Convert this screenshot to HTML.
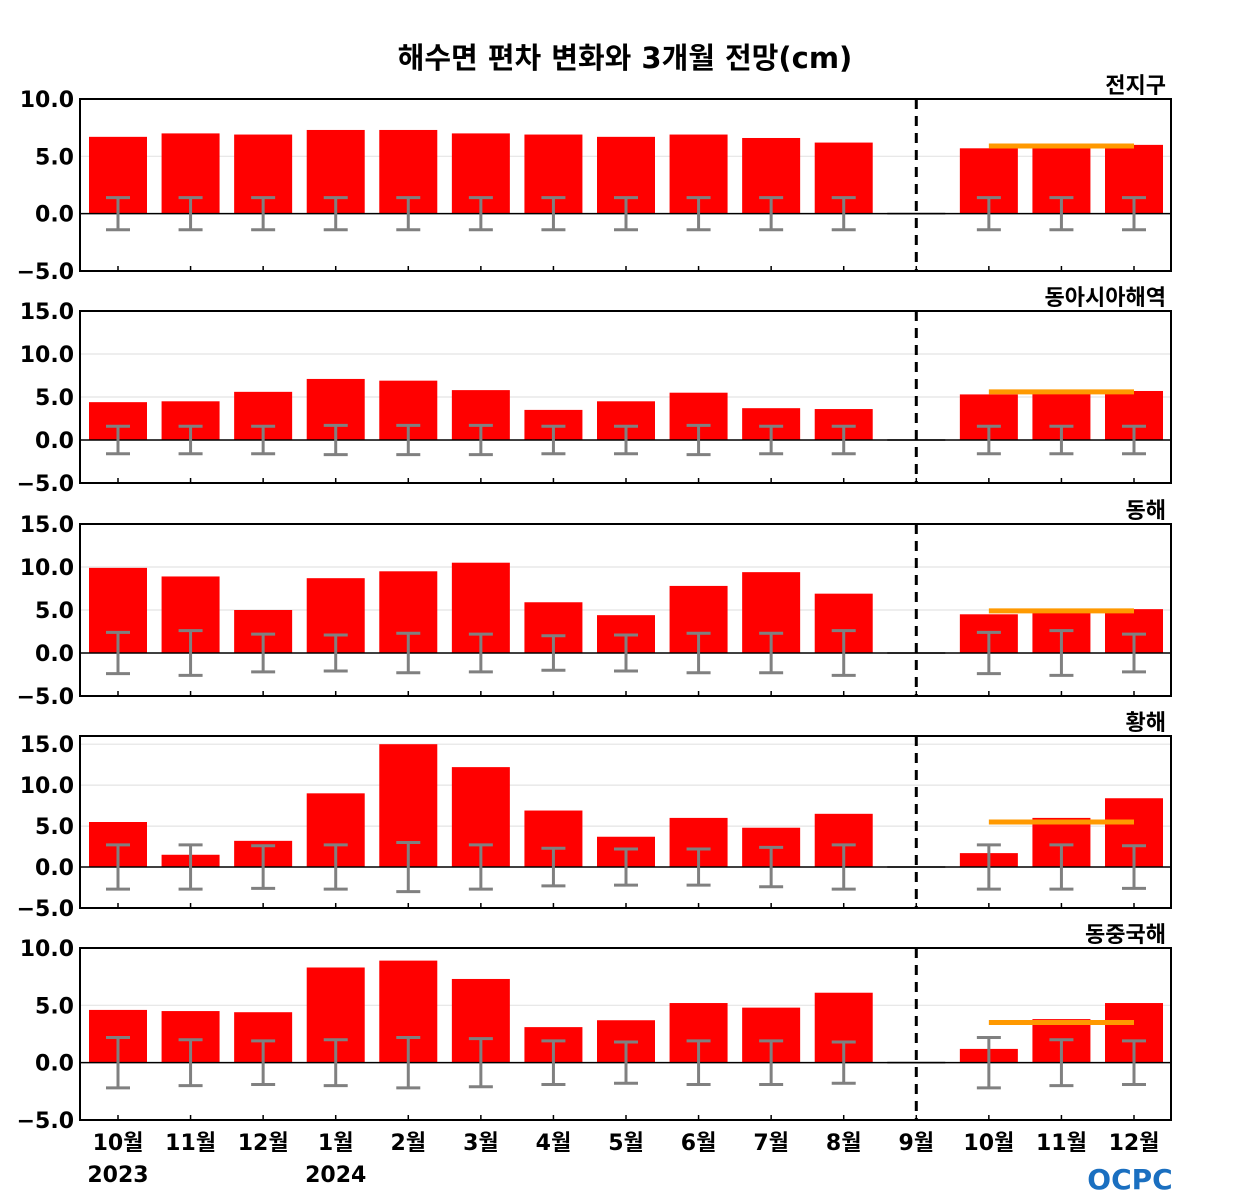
<!DOCTYPE html>
<html><head><meta charset="utf-8">
<style>
body{margin:0;background:#fff;}
svg{display:block;font-family:"DejaVu Sans","Noto Sans CJK KR",sans-serif;}
</style></head>
<body>
<svg id="chart" width="1250" height="1200" viewBox="0 0 1250 1200">
<text x="625" y="68" text-anchor="middle" font-size="29" font-weight="bold">해수면 편차 변화와 3개월 전망(cm)</text>
<g>
<text x="1130" y="1189" text-anchor="middle" font-size="28" font-weight="bold" fill="#1a6fc0">OCPC</text>
</g>
</svg>
<script>
const months = ["10월","11월","12월","1월","2월","3월","4월","5월","6월","7월","8월","9월","10월","11월","12월"];
const years = [["2023",0],["2024",3]];
const regions = ["전지구","동아시아해역","동해","황해","동중국해"];
const yMin = [-5,-5,-5,-5,-5];
const yMax = [10,15,15,16,10];
const yTicks = [[-5,0,5,10],[-5,0,5,10,15],[-5,0,5,10,15],[-5,0,5,10,15],[-5,0,5,10]];
const valsGlobal = [6.7,7.0,6.9,7.3,7.3,7.0,6.9,6.7,6.9,6.6,6.2,0,5.7,5.9,6.0];
const valsEastAsia = [4.4,4.5,5.6,7.1,6.9,5.8,3.5,4.5,5.5,3.7,3.6,0,5.3,5.5,5.7];
const valsEastSea = [9.9,8.9,5.0,8.7,9.5,10.5,5.9,4.4,7.8,9.4,6.9,0,4.5,4.9,5.1];
const valsYellowSea = [5.5,1.5,3.2,9.0,15.0,12.2,6.9,3.7,6.0,4.8,6.5,0,1.7,6.0,8.4];
const valsEastChinaSea = [4.6,4.5,4.4,8.3,8.9,7.3,3.1,3.7,5.2,4.8,6.1,0,1.2,3.8,5.2];
const errGlobal = [1.4,1.4,1.4,1.4,1.4,1.4,1.4,1.4,1.4,1.4,1.4,0,1.4,1.4,1.4];
const errEastAsia = [1.6,1.6,1.6,1.7,1.7,1.7,1.6,1.6,1.7,1.6,1.6,0,1.6,1.6,1.6];
const errEastSea = [2.4,2.6,2.2,2.1,2.3,2.2,2.0,2.1,2.3,2.3,2.6,0,2.4,2.6,2.2];
const errYellowSea = [2.7,2.7,2.6,2.7,3.0,2.7,2.3,2.2,2.2,2.4,2.7,0,2.7,2.7,2.6];
const errEastChinaSea = [2.2,2.0,1.9,2.0,2.2,2.1,1.9,1.8,1.9,1.9,1.8,0,2.2,2.0,1.9];
const forecast = [5.9,5.6,4.9,5.5,3.5];
const series = [valsGlobal,valsEastAsia,valsEastSea,valsYellowSea,valsEastChinaSea];
const errs = [errGlobal,errEastAsia,errEastSea,errYellowSea,errEastChinaSea];

const NS="http://www.w3.org/2000/svg";
const svg=document.getElementById('chart');
function mk(tag,attrs,parent){const e=document.createElementNS(NS,tag);for(const k in attrs)e.setAttribute(k,attrs[k]);(parent||svg).appendChild(e);return e;}
const L=80,R=1171;
const tops=[99,311,524,736,948],H=172;
function xc(i){return 118+i*(1134-118)/(months.length-1);}

regions.forEach((reg,p)=>{
  const top=tops[p],bot=top+H;
  const y=v=>bot-(v-yMin[p])/(yMax[p]-yMin[p])*H;
  const g=mk('g',{});
  
  
  yTicks[p].forEach(t=>{
    if(t!==0&&t!==yMin[p]){const gl=mk('line',{x1:L,x2:R,y1:y(t),y2:y(t),stroke:'#e4e4e4','stroke-width':1.2},g);
    }
    const tl=mk('text',{x:74,y:y(t)+8,'text-anchor':'end','font-size':22,'font-weight':'bold'},g);
    tl.textContent=(t<0?'\u2212':'')+Math.abs(t).toFixed(1);
    
  });
  series[p].forEach((v,i)=>{
    if(v===0){const z=mk('line',{x1:xc(i)-29,x2:xc(i)+29,y1:y(0),y2:y(0),stroke:'#999','stroke-width':2},g);
      return;}
    const r=mk('rect',{x:xc(i)-29,width:58,y:Math.min(y(v),y(0)),height:Math.abs(y(v)-y(0)),fill:'#ff0000'},g);
    
  });
  const zl=mk('line',{x1:L,x2:R,y1:y(0),y2:y(0),stroke:'#000','stroke-width':1.5},g);
  
  errs[p].forEach((e,i)=>{
    if(e===0)return;
    const eg=mk('g',{stroke:'#808080','stroke-width':3},g);
    
    mk('line',{x1:xc(i),x2:xc(i),y1:y(e),y2:y(-e)},eg);
    mk('line',{x1:xc(i)-12,x2:xc(i)+12,y1:y(e),y2:y(e)},eg);
    mk('line',{x1:xc(i)-12,x2:xc(i)+12,y1:y(-e),y2:y(-e)},eg);
  });
  const fl=mk('line',{x1:xc(12),x2:xc(14),y1:y(forecast[p]),y2:y(forecast[p]),stroke:'#ff9900','stroke-width':5},g);
  
  const dl=mk('line',{x1:xc(11),x2:xc(11),y1:top,y2:bot,stroke:'#000','stroke-width':3,'stroke-dasharray':'10,7'},g);
  
  months.forEach((m,i)=>{const t=mk('line',{x1:xc(i),x2:xc(i),y1:bot,y2:bot-5,stroke:'#000','stroke-width':1.5},g);
    });
  const fr=mk('rect',{x:L,y:top,width:R-L,height:H,fill:'none',stroke:'#000','stroke-width':2},g);
  
  const rl=mk('text',{x:1166,y:top-6,'text-anchor':'end','font-size':22,'font-weight':'bold'},g);
  rl.textContent=reg;
  
});
months.forEach((m,i)=>{
  const t=mk('text',{x:xc(i),y:1150,'text-anchor':'middle','font-size':22,'font-weight':'bold'});
  t.textContent=m;
  
});
years.forEach(([yr,i])=>{
  const t=mk('text',{x:xc(i),y:1182,'text-anchor':'middle','font-size':22,'font-weight':'bold'});
  t.textContent=yr;
  
});
</script>
</body></html>
